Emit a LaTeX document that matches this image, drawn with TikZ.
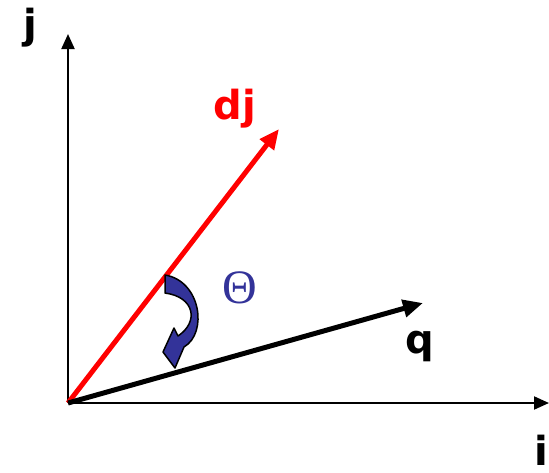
\documentclass[tikz,border=0pt]{standalone}
\usepackage{fontspec}
\setsansfont{DejaVu Sans}
\newfontfamily\thetafont{Liberation Serif}
\usepackage{tikz}
\usetikzlibrary{arrows.meta,positioning}
\definecolor{vecred}{RGB}{255,0,0}
\definecolor{angblue}{RGB}{51,51,153}
\tikzset{
  axis/.style={line width=2pt, -{Triangle[length=15pt, width=13pt]}},
  vec/.style={line width=5pt, -{Triangle[length=20pt, width=17pt]}},
  lbl/.style={font=\sffamily\bfseries\fontsize{40}{48}\selectfont, inner sep=0pt, anchor=base},
  ang/.style={font=\thetafont\fontsize{48}{54}\selectfont, text=angblue, inner sep=0pt, anchor=base},
  turn/.style={draw=black, line width=1.5pt, fill=angblue, line join=round},
}
\begin{document}
\begin{tikzpicture}[x=1pt,y=-1pt]
\useasboundingbox (0,0) rectangle (549,472);
\coordinate (o) at (68,403);
\coordinate (jtop) at (68,34);
\coordinate (iend) at (549,403);
\coordinate (djend) at (279,129);
\coordinate (qend) at (423,303);
\draw[axis] (o) -- (jtop);
\draw[axis] (o) -- (iend);
\draw[vec, vecred] (o) -- (djend);
\draw[vec, black] (o) -- (qend);
% rotation arrow between the vectors
\draw[turn] (165,275) .. controls (201,281) and (208,333) .. (184,347)
  -- (175,368) -- (163,352) -- (174,328) -- (178,336)
  .. controls (199,322) and (195,297) .. (165,293) -- cycle;
\node[lbl] (jlab) at (30,38) {j};
\node[lbl, text=vecred] (djlab) at (235,119) {dj};
\node[lbl] (qlab) at (420,353) {q};
\node[lbl] (ilab) at (541,465) {i};
\node[ang] (theta) at (240,303) {Θ};
\end{tikzpicture}
\end{document}
